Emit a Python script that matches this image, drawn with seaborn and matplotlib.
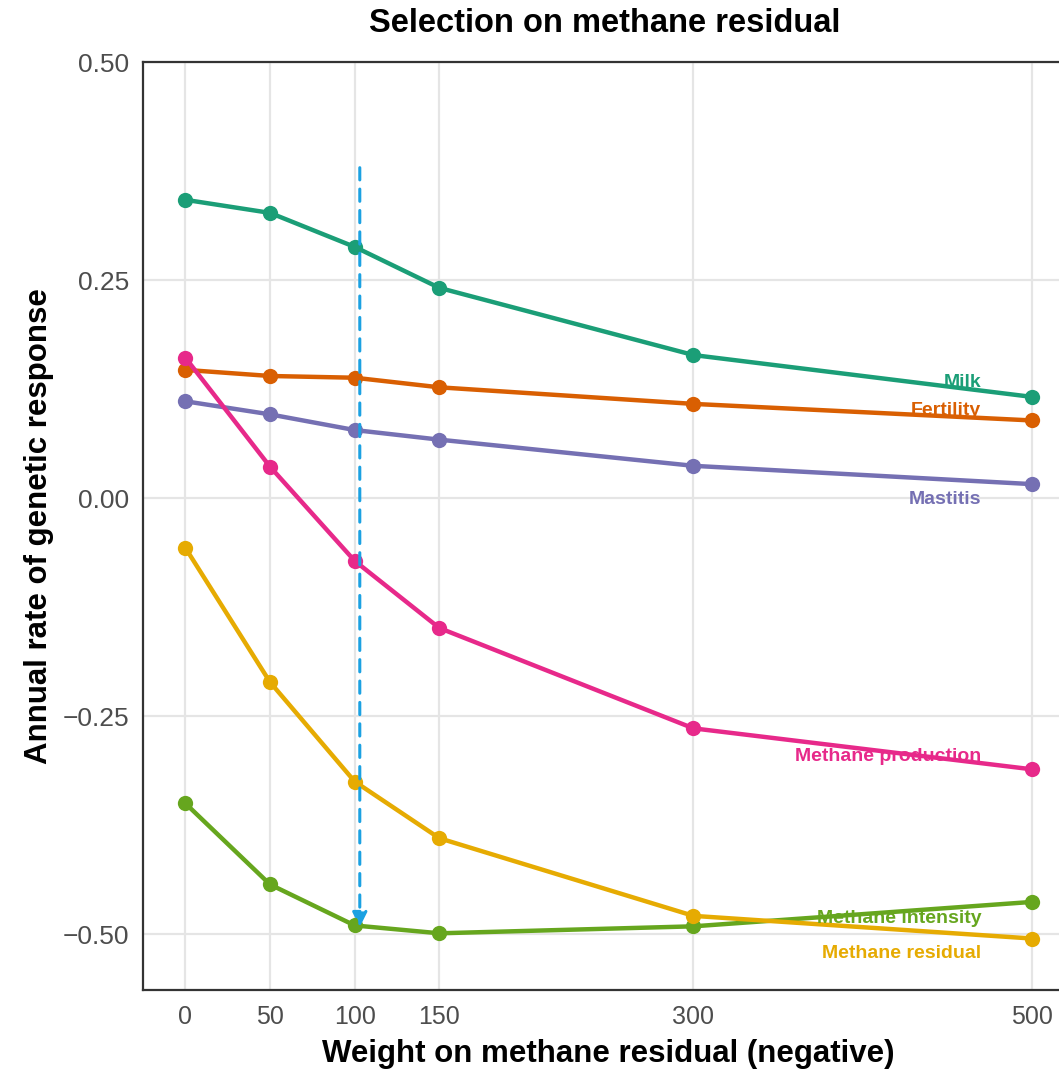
import numpy as np
import pandas as pd
import matplotlib
matplotlib.use("Agg")
import matplotlib.pyplot as plt
import seaborn as sns

weights = [0, 50, 100, 150, 300, 500]
traits = ["Milk", "Fertility", "Mastitis", "Methane production", "Methane intensity", "Methane residual"]
milk = [0.342, 0.327, 0.288, 0.241, 0.164, 0.116]
fertility = [0.147, 0.140, 0.138, 0.127, 0.108, 0.089]
mastitis = [0.111, 0.096, 0.078, 0.067, 0.037, 0.016]
meth_prod = [0.161, 0.036, -0.072, -0.149, -0.264, -0.311]
meth_int = [-0.350, -0.443, -0.490, -0.499, -0.491, -0.463]
meth_res = [-0.057, -0.211, -0.325, -0.390, -0.479, -0.505]
label_y = [0.132, 0.100, -0.002, -0.296, -0.482, -0.522]
colors = ["#1B9E77", "#D95F02", "#7570B3", "#E7298A", "#66A61E", "#E6AB02"]
y_ticks = [-0.50, -0.25, 0.00, 0.25, 0.50]
y_ticklabels = ["\u22120.50", "\u22120.25", "0.00", "0.25", "0.50"]

series = [milk, fertility, mastitis, meth_prod, meth_int, meth_res]
df = pd.DataFrame({
    "weight": np.tile(weights, len(traits)),
    "value": np.concatenate(series),
    "trait": np.repeat(traits, len(weights)),
})

sns.set_theme(style="white")
plt.rcParams["font.family"] = ["Liberation Sans", "DejaVu Sans"]

fig = plt.figure(figsize=(10.59, 10.70), dpi=100)
ax = fig.add_axes([143/1059, 1-990/1070, (1074.5-143)/1059, (990-62)/1070])

sns.lineplot(data=df, x="weight", y="value", hue="trait", hue_order=traits,
             palette=colors, marker="o", markersize=11, markeredgewidth=0,
             linewidth=3.2, legend=False, ax=ax, zorder=3)

for t, c, ly in zip(traits, colors, label_y):
    ax.text(470, ly, t, color=c, fontsize=14, fontweight="bold",
            ha="right", va="center", zorder=4)

ax.annotate("", xy=(103, -0.495), xytext=(103, 0.382),
            arrowprops=dict(arrowstyle="-|>", color="#1BA1E2", lw=2.2,
                            linestyle=(0, (4, 3)), mutation_scale=22),
            zorder=5)

ax.set_xlim(-25, 525)
ax.set_ylim(-0.564, 0.5)
ax.set_xticks(weights)
ax.set_xticklabels([str(w) for w in weights])
ax.set_yticks(y_ticks)
ax.set_yticklabels(y_ticklabels)
ax.grid(True, color="#E5E5E5", linewidth=1.6)
ax.set_axisbelow(True)
for s in ax.spines.values():
    s.set_color("#333333")
    s.set_linewidth(1.6)
ax.tick_params(axis="both", which="major", direction="out", length=6, width=1.6,
               color="#333333", labelcolor="#4D4D4D")
ax.tick_params(axis="y", labelsize=19, pad=4)
ax.tick_params(axis="x", labelsize=18, pad=5)
ax.set_xlabel("Weight on methane residual (negative)", fontsize=22.5, fontweight="bold",
              color="black", labelpad=7)
ax.set_ylabel("Annual rate of genetic response", fontsize=22.5, fontweight="bold",
              color="black", labelpad=6)
fig.text(605/1059, 1-24/1070, "Selection on methane residual", fontsize=23.5,
         fontweight="bold", ha="center", va="center", color="black")

fig.savefig("out.png", dpi=100)
